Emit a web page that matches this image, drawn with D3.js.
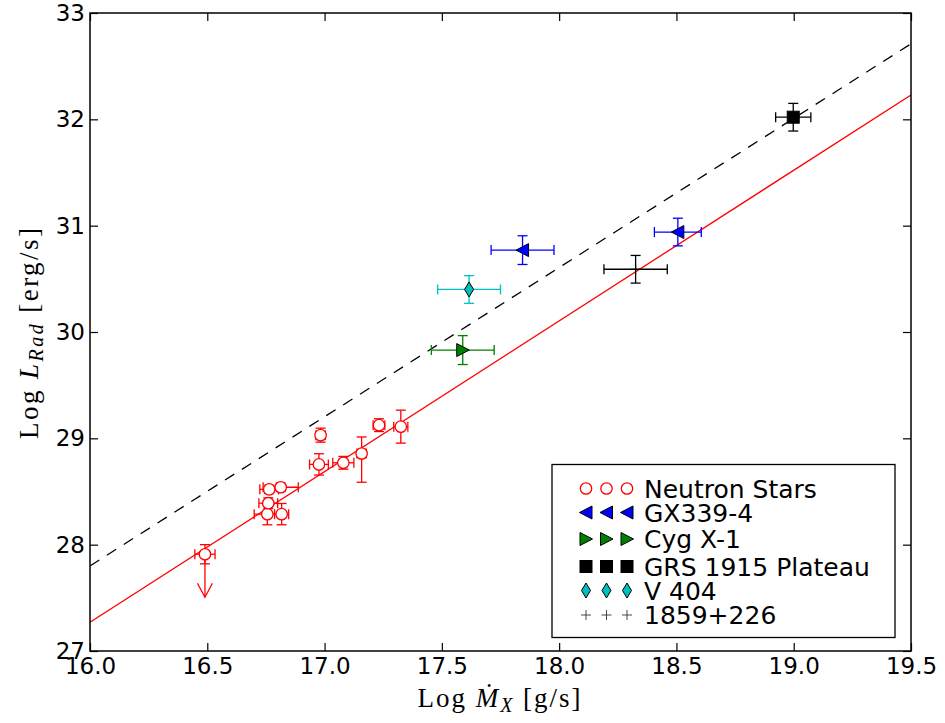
<!DOCTYPE html>
<html>
<head>
<meta charset="utf-8">
<script src="https://cdn.jsdelivr.net/npm/d3@7"></script>
<style>
  body { margin: 0; background: #fff; }
  svg { display: block; }
  .tick text { font-family: "DejaVu Sans", sans-serif; font-size: 23px; fill: #000; }
  .tick line { stroke: #000; stroke-width: 1.2; }
</style>
</head>
<body>
<div id="chart"></div>
<script>
// axis ticks
var xTicks = [16.0, 16.5, 17.0, 17.5, 18.0, 18.5, 19.0, 19.5];
var yTicks = [27, 28, 29, 30, 31, 32, 33];

// neutron stars: x, y, xerr, yerr low, yerr high, upper limit
var nsX     = [16.49, 16.756, 16.760, 16.764, 16.813, 16.817, 16.983, 16.976, 17.080, 17.158, 17.232, 17.325];
var nsY     = [27.91, 28.287, 28.390, 28.520, 28.540, 28.287, 29.030, 28.755, 28.770, 28.857, 29.124, 29.110];
var nsXerr  = [0.043, 0.056, 0.040, 0.040, 0.075, 0.030, 0.020, 0.040, 0.045, 0.020, 0.025, 0.030];
var nsYlo   = [0.090, 0.100, 0.050, 0.040, 0.040, 0.100, 0.066, 0.100, 0.060, 0.270, 0.060, 0.155];
var nsYhi   = [0.090, 0.100, 0.050, 0.040, 0.040, 0.100, 0.066, 0.100, 0.060, 0.156, 0.060, 0.155];
var nsLimit = [true, false, false, false, false, false, false, false, false, false, false, false];

// black hole sources
var bhNames  = ["GX339-4", "GX339-4", "Cyg X-1", "GRS 1915 Plateau", "V 404", "1859+226"];
var bhX      = [17.844, 18.506, 17.589, 18.998, 17.616, 18.326];
var bhY      = [30.77, 30.94, 29.83, 32.02, 30.40, 30.59];
var bhXerr   = [0.134, 0.100, 0.134, 0.075, 0.134, 0.135];
var bhYerr   = [0.135, 0.130, 0.136, 0.130, 0.130, 0.130];

// legend entries
var legendNames = ["Neutron Stars", "GX339-4", "Cyg X-1", "GRS 1915 Plateau", "V 404", "1859+226"];

// fitted relations: [x start, x end], intercept at x=16, slope
var fitXRange = [16.0, 19.5];
var nsFit = { a: 27.27, b: 1.417 };
var bhFit = { a: 27.80, b: 1.403 };

var W = 945, H = 723;
var margin = { top: 13, right: 34, bottom: 72, left: 90 };
var width = W - margin.left - margin.right,
    height = H - margin.top - margin.bottom;

var x = d3.scaleLinear().domain([16, 19.5]).range([0, width]);
var y = d3.scaleLinear().domain([27, 33]).range([height, 0]);

var svg = d3.select("#chart").append("svg")
    .attr("width", W).attr("height", H);

var main = svg.append("g")
    .attr("transform", "translate(" + margin.left + "," + margin.top + ")");

var clip = svg.append("clipPath").attr("id", "plotclip");
clip.append("rect").attr("width", width).attr("height", height);

var plot = main.append("g").attr("clip-path", "url(#plotclip)");

// fit lines
function fitLine(fit, color, dash) {
  plot.append("line")
    .attr("x1", x(fitXRange[0])).attr("y1", y(fit.a + fit.b * (fitXRange[0] - 16)))
    .attr("x2", x(fitXRange[1])).attr("y2", y(fit.a + fit.b * (fitXRange[1] - 16)))
    .attr("stroke", color).attr("stroke-width", 1.3)
    .attr("stroke-dasharray", dash);
}
fitLine(bhFit, "#000", "11,9");
fitLine(nsFit, "#ff0000", null);

var cap = 5;

function errorBar(g, cx, cy, xe, ylo, yhi, color) {
  var px = x(cx), py = y(cy);
  var x0 = x(cx - xe), x1 = x(cx + xe);
  var y0 = y(cy - ylo), y1 = y(cy + yhi);
  var s = { stroke: color, "stroke-width": 1.3 };
  function ln(a, b, c, d) {
    var l = g.append("line").attr("x1", a).attr("y1", b).attr("x2", c).attr("y2", d);
    for (var k in s) l.attr(k, s[k]);
  }
  ln(x0, py, x1, py);
  ln(x0, py - cap, x0, py + cap);
  ln(x1, py - cap, x1, py + cap);
  ln(px, y0, px, y1);
  ln(px - cap, y0, px + cap, y0);
  ln(px - cap, y1, px + cap, y1);
}

// marker shapes
function marker(g, kind, px, py) {
  if (kind === "circle") {
    g.append("circle").attr("cx", px).attr("cy", py).attr("r", 5.7)
      .attr("fill", "#fff").attr("stroke", "#ff0000").attr("stroke-width", 1.3);
  } else if (kind === "left") {
    g.append("path")
      .attr("d", "M" + (px - 6.5) + "," + py + "L" + (px + 6) + "," + (py - 6.5) + "L" + (px + 6) + "," + (py + 6.5) + "Z")
      .attr("fill", "#0000ff").attr("stroke", "#000").attr("stroke-width", 1);
  } else if (kind === "right") {
    g.append("path")
      .attr("d", "M" + (px + 6.5) + "," + py + "L" + (px - 6) + "," + (py - 6.5) + "L" + (px - 6) + "," + (py + 6.5) + "Z")
      .attr("fill", "#008000").attr("stroke", "#000").attr("stroke-width", 1);
  } else if (kind === "square") {
    g.append("rect").attr("x", px - 6).attr("y", py - 6).attr("width", 12).attr("height", 12)
      .attr("fill", "#000").attr("stroke", "#000").attr("stroke-width", 1);
  } else if (kind === "diamond") {
    g.append("path")
      .attr("d", "M" + px + "," + (py - 7.5) + "L" + (px + 4.5) + "," + py + "L" + px + "," + (py + 7.5) + "L" + (px - 4.5) + "," + py + "Z")
      .attr("fill", "#00bfbf").attr("stroke", "#000").attr("stroke-width", 1);
  } else if (kind === "plus") {
    g.append("path")
      .attr("d", "M" + (px - 5) + "," + py + "H" + (px + 5) + "M" + px + "," + (py - 5) + "V" + (py + 5))
      .attr("stroke", "#000").attr("stroke-width", 0.9).attr("fill", "none");
  }
}

var bhKinds  = ["left", "left", "right", "square", "diamond", "plus"];
var bhColors = ["#0000ff", "#0000ff", "#008000", "#000", "#00bfbf", "#000"];

var dots = plot.append("g");

// neutron stars
nsX.forEach(function(d, i) {
  errorBar(dots, nsX[i], nsY[i], nsXerr[i], nsYlo[i], nsYhi[i], "#ff0000");
  if (nsLimit[i]) {
    var px = x(nsX[i]), py = y(nsY[i]), ay = py + 43;
    dots.append("line").attr("x1", px).attr("y1", py).attr("x2", px).attr("y2", ay)
      .attr("stroke", "#ff0000").attr("stroke-width", 1.3);
    dots.append("path")
      .attr("d", "M" + (px - 7.5) + "," + (ay - 14) + "L" + px + "," + ay + "L" + (px + 7.5) + "," + (ay - 14))
      .attr("fill", "none").attr("stroke", "#ff0000").attr("stroke-width", 1.3);
  }
});
nsX.forEach(function(d, i) {
  marker(dots, "circle", x(nsX[i]), y(nsY[i]));
});

// black holes
bhX.forEach(function(d, i) {
  errorBar(dots, bhX[i], bhY[i], bhXerr[i], bhYerr[i], bhYerr[i], bhColors[i]);
  marker(dots, bhKinds[i], x(bhX[i]), y(bhY[i]));
});

// axes
var xAxis = d3.axisBottom(x).tickValues(xTicks).tickFormat(d3.format(".1f"))
    .tickSizeInner(-8).tickSizeOuter(0).tickPadding(6);
var yAxis = d3.axisLeft(y).tickValues(yTicks).tickFormat(d3.format("d"))
    .tickSizeInner(-8).tickSizeOuter(0).tickPadding(5);

var gx = main.append("g").attr("transform", "translate(0," + height + ")").call(xAxis);
var gy = main.append("g").call(yAxis);
main.append("g").call(d3.axisTop(x).tickValues(xTicks).tickFormat("").tickSizeInner(-8).tickSizeOuter(0));
main.append("g").attr("transform", "translate(" + width + ",0)")
    .call(d3.axisRight(y).tickValues(yTicks).tickFormat("").tickSizeInner(-8).tickSizeOuter(0));
main.selectAll(".domain").remove();

gx.selectAll(".tick text").attr("dy", "0.73em");

main.append("rect").attr("width", width).attr("height", height)
  .attr("fill", "none").attr("stroke", "#000").attr("stroke-width", 1.5);

// axis labels
var xl = svg.append("text")
  .attr("x", 499).attr("y", 707)
  .attr("text-anchor", "middle")
  .attr("textLength", 163).attr("lengthAdjust", "spacing")
  .style("font-family", "'Liberation Serif', serif").style("font-size", "27px");
xl.append("tspan").text("Log ");
xl.append("tspan").style("font-style", "italic").text("\u1E40");
xl.append("tspan").style("font-style", "italic").style("font-size", "20px").attr("dy", 5).text("X");
xl.append("tspan").attr("dy", -5).text(" [g/s]");

var yl = svg.append("text")
  .attr("transform", "translate(38,333.5) rotate(-90)")
  .attr("text-anchor", "middle")
  .attr("textLength", 211).attr("lengthAdjust", "spacing")
  .style("font-family", "'Liberation Serif', serif").style("font-size", "27px");
yl.append("tspan").text("Log ");
yl.append("tspan").style("font-style", "italic").text("L");
yl.append("tspan").style("font-style", "italic").style("font-size", "20px").attr("dy", 5).text("Rad");
yl.append("tspan").attr("dy", -5).text(" [erg/s]");

// legend
var lg = svg.append("g");
lg.append("rect").attr("x", 552).attr("y", 464.5).attr("width", 343).attr("height", 173)
  .attr("fill", "#fff").attr("stroke", "#000").attr("stroke-width", 1.3);

var legendKinds = ["circle", "left", "right", "square", "diamond", "plus"];
var legendRowY = [488.5, 512.5, 539, 566.5, 590.5, 615];
var legendMarkX = [586, 606.5, 627];

legendNames.forEach(function(name, i) {
  legendMarkX.forEach(function(mx) {
    marker(lg, legendKinds[i], mx, legendRowY[i]);
  });
  lg.append("text").attr("x", 644).attr("y", legendRowY[i]).attr("dy", "0.36em")
    .style("font-family", "'DejaVu Sans', sans-serif").style("font-size", "25px")
    .text(name);
});
lg.selectAll("path").filter(function() { return d3.select(this).attr("fill") === "none"; })
  .attr("stroke", "#333").attr("stroke-width", 0.9);
</script>
</body>
</html>
